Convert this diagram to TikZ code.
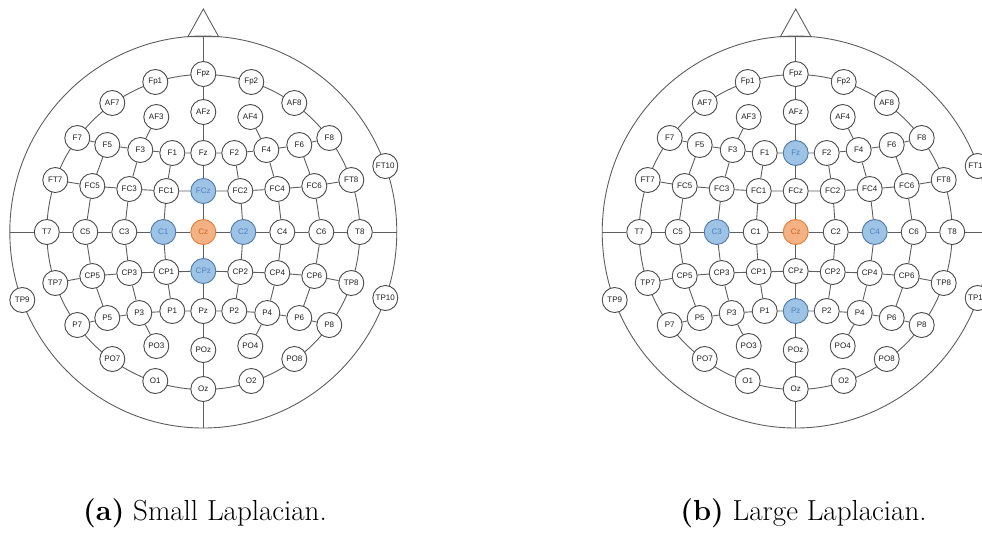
\documentclass[tikz,border=0pt]{standalone}
\usepackage{fontspec}
\newfontfamily\elfont{Liberation Sans}

\definecolor{wiregray}{HTML}{5E5E5E}
\definecolor{elborder}{HTML}{4A4A4A}
\definecolor{eltext}{HTML}{1E1E1E}
\definecolor{elblue}{HTML}{9DC3E6}
\definecolor{elblueline}{HTML}{4F77A3}
\definecolor{elbluetext}{HTML}{4F7FB8}
\definecolor{elorange}{HTML}{F4B183}
\definecolor{elorangeline}{HTML}{E07B39}
\definecolor{elorangetext}{HTML}{C8682C}

\tikzset{
  x=1pt, y=-1pt,
  elec/.style={circle, draw=elborder, fill=white, line width=0.9pt,
    minimum size=25pt, inner sep=0pt, text=eltext,
    font=\elfont\fontsize{8}{9}\selectfont},
  bluenode/.style={fill=elblue, draw=elblueline, text=elbluetext},
  orangenode/.style={fill=elorange, draw=elorangeline, text=elorangetext},
  wire/.style={draw=wiregray, line width=0.9pt},
  capt/.style={font=\fontsize{29}{33}\selectfont, inner sep=0pt},
}

% One 10-10 electrode cap; #1 holds the scope options (shift, prefix, highlights)
\newcommand{\eeghead}[1]{%
\begin{scope}[#1, yscale=-1]
  % head outline, nose and inner ring
  \draw[wire] (0,0) ellipse [x radius=193.5, y radius=196];
  \draw[wire] (-15.3,195.4) -- (0,223) -- (15.3,195.4) -- cycle;
  \draw[wire] (0,0) ellipse [x radius=156.5, y radius=157.5];
  \coordinate (top) at (0,196);
  \coordinate (bottom) at (0,-196);
  \coordinate (left) at (-193.5,0);
  \coordinate (right) at (193.5,0);
  % electrodes
  \foreach \n/\px/\py in {
    Fpz/0/158, Fp1/-48/150, Fp2/48/150,
    AF7/-91/129, AF3/-47/115, AFz/0/120, AF4/47/115, AF8/91/129,
    F7/-126/94, F5/-96/87, F3/-63/82, F1/-31/79, Fz/0/79,
    F2/31/79, F4/63/82, F6/96/87, F8/126/94,
    FT7/-148/52, FC5/-111/46, FC3/-74/43, FC1/-37/41, FCz/0/41,
    FC2/37/41, FC4/74/43, FC6/111/46, FT8/148/52,
    T7/-156.5/0, C5/-118/0, C3/-79/0, C1/-40/0, Cz/0/0,
    C2/40/0, C4/79/0, C6/118/0, T8/156.5/0,
    TP7/-148/-51, CP5/-111/-44, CP3/-74/-41, CP1/-37/-40, CPz/0/-39,
    CP2/37/-40, CP4/74/-41, CP6/111/-44, TP8/148/-51,
    P7/-126/-93, P5/-96/-86, P3/-64/-81, P1/-31/-79, Pz/0/-79,
    P2/31/-79, P4/64/-81, P6/96/-86, P8/126/-93,
    PO7/-91/-127, PO3/-47/-114, POz/0/-118, PO4/47/-114, PO8/91/-127,
    O1/-48/-149, Oz/0/-157, O2/48/-149,
    TP9/-181/-68, FT10/182/66, TP10/182/-66}{%
    \edef\elnode{\noexpand\node[elec, hl-\n/.try] (\n) at (\px,\py) {\n};}%
    \elnode
  }
  % midline and central row
  \draw[wire] (top) -- (Fpz) -- (AFz) -- (Fz) -- (FCz) -- (Cz) -- (CPz)
    -- (Pz) -- (POz) -- (Oz) -- (bottom);
  \draw[wire] (left) -- (T7) -- (C5) -- (C3) -- (C1) -- (Cz) -- (C2)
    -- (C4) -- (C6) -- (T8) -- (right);
  % latitude rows
  \draw[wire] (F7) -- (F5) -- (F3) -- (F1) -- (Fz) -- (F2) -- (F4) -- (F6) -- (F8);
  \draw[wire] (FT7) -- (FC5) -- (FC3) -- (FC1) -- (FCz) -- (FC2) -- (FC4) -- (FC6) -- (FT8);
  \draw[wire] (TP7) -- (CP5) -- (CP3) -- (CP1) -- (CPz) -- (CP2) -- (CP4) -- (CP6) -- (TP8);
  \draw[wire] (P7) -- (P5) -- (P3) -- (P1) -- (Pz) -- (P2) -- (P4) -- (P6) -- (P8);
  % meridian columns
  \draw[wire] (AF3) -- (F3) -- (FC3) -- (C3) -- (CP3) -- (P3) -- (PO3);
  \draw[wire] (AF4) -- (F4) -- (FC4) -- (C4) -- (CP4) -- (P4) -- (PO4);
  \draw[wire] (F1) -- (FC1) -- (C1) -- (CP1) -- (P1);
  \draw[wire] (F2) -- (FC2) -- (C2) -- (CP2) -- (P2);
  \draw[wire] (F5) -- (FC5) -- (C5) -- (CP5) -- (P5);
  \draw[wire] (F6) -- (FC6) -- (C6) -- (CP6) -- (P6);
\end{scope}}

\begin{document}
\begin{tikzpicture}
  \useasboundingbox (0,0) rectangle (982,547);
  \clip (0,0) rectangle (982,547);

  % (a) small Laplacian around Cz
  \eeghead{shift={(203.3,232)}, name prefix=a-,
    hl-FCz/.style=bluenode, hl-C1/.style=bluenode, hl-C2/.style=bluenode,
    hl-CPz/.style=bluenode, hl-Cz/.style=orangenode}

  % (b) large Laplacian around Cz
  \eeghead{shift={(795.7,232)}, name prefix=b-,
    hl-Fz/.style=bluenode, hl-C3/.style=bluenode, hl-C4/.style=bluenode,
    hl-Pz/.style=bluenode, hl-Cz/.style=orangenode}

  \node[capt] (capa) at (205,513) {\textbf{(a)} Small Laplacian.};
  \node[capt] (capb) at (803.5,513) {\textbf{(b)} Large Laplacian.};
\end{tikzpicture}
\end{document}
